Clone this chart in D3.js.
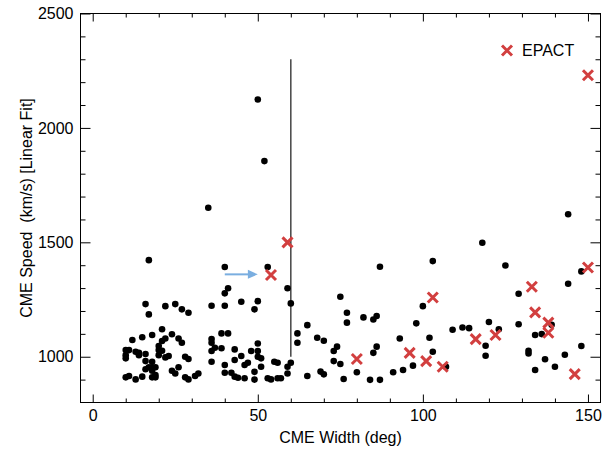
<!DOCTYPE html>
<html>
<head>
<meta charset="utf-8">
<script src="https://cdn.jsdelivr.net/npm/d3@7"></script>
<style>
  body { margin: 0; background: #fff; }
  svg text { font-family: "Liberation Sans", Arial, sans-serif; fill: #000; }
</style>
</head>
<body>
<div id="chart"></div>
<script>
// CME width (deg) and linear-fit speed (km/s), all events
const widthAll = [10, 10, 10, 11, 13, 14, 14, 16, 12, 15, 18, 21, 24, 22, 21, 26, 27, 20, 20, 21, 20, 23, 22,
  16, 18, 17, 16, 18, 19, 18, 15, 13, 10, 11, 18, 19, 19, 24, 25, 26, 28, 29, 31, 32, 28, 29,
  16, 17, 22, 25, 27, 29, 17,
  35, 50, 52, 40, 53, 41, 59, 40, 36, 40, 45, 50, 49, 60, 65, 62, 68, 62, 39, 41, 36, 36, 37, 36, 39, 36,
  43, 48, 50, 50, 45, 43, 50, 51, 46, 47, 51, 49, 40, 40, 42, 43, 44, 46, 49, 53, 54, 55, 56, 56, 57,
  59, 59, 60, 65, 69,
  87, 103, 75, 77, 77, 82, 85, 86, 100, 98, 70, 74, 73, 73, 75, 86, 85, 93, 102, 103, 70, 76, 80, 84, 87,
  91, 94, 97, 107,
  144, 118, 125, 129, 144, 148, 109, 112, 114, 120, 123, 129, 119, 119, 134, 136, 139, 132, 132, 137,
  134, 140, 143, 148];
const speedAll = [1029, 1007, 993, 1029, 1022, 1017, 1007, 1012, 1073, 1085, 1095, 1120, 1098, 1080, 1069, 1080, 1061, 1047, 1029, 1026, 1007, 1003, 997,
  981, 978, 954, 945, 954, 954, 939, 913, 901, 910, 916, 910, 910, 920, 939, 927, 954, 910, 901, 916, 927, 1000, 990,
  1230, 1185, 1221, 1230, 1207, 1192, 1422,
  1651, 2124, 1855, 1392, 1392, 1299, 1299, 1277, 1223, 1223, 1240, 1243, 1207, 1233, 1138, 1102, 1083, 1061, 1102, 1102, 1077, 1061, 1039, 1025, 1037, 978,
  1032, 1025, 1058, 1025, 1003, 986, 1000, 993, 964, 974, 956, 934, 964, 930, 930, 913, 908, 906, 900, 906, 901, 978, 974, 906, 906,
  956, 927, 974, 916, 935,
  1393, 1418, 1262, 1192, 1149, 1172, 1163, 1178, 1221, 1146, 1070, 1044, 1025, 981, 968, 1044, 1017, 1080, 1083, 1022, 923, 903, 932, 899, 899,
  932, 942, 961, 956,
  1623, 1498, 1399, 1275, 1319, 1373, 1118, 1128, 1125, 1152, 1120, 1142, 1048, 1004, 1095, 1099, 1140, 1026, 1014, 989,
  942, 956, 1009, 1047];

// EPACT events
const widthEpact = [54, 59, 80, 96, 101, 103, 106, 116, 122, 133, 134, 138, 138, 146, 150, 150];
const speedEpact = [1357, 1500, 990, 1017, 981, 1259, 956, 1077, 1095, 1306, 1194, 1149, 1105, 924, 1390, 2230];

const xMajor = [0, 50, 100, 150];
const yMajor = [1000, 1500, 2000, 2500];

const W = 607, H = 451;
const L = 80.5, R = 600.5, T = 13.5, B = 402.5;

const svg = d3.select("#chart").append("svg")
    .attr("width", W)
    .attr("height", H);

const x = d3.scaleLinear().domain([-3.7, 153.8]).range([L, R]);
const y = d3.scaleLinear().domain([800, 2500]).range([B, T]);

const xMinor = d3.range(0, 151, 10).filter(v => !xMajor.includes(v));
const yMinor = d3.range(900, 2500, 100).filter(v => !yMajor.includes(v));

function addAxis(axisFn, scale, pos, values, size, labels) {
    let ax = axisFn(scale).tickValues(values).tickSize(-size).tickSizeOuter(0);
    if (labels) ax.tickPadding(7).tickFormat(d3.format("d"));
    else ax.tickFormat("");
    let g = svg.append("g").attr("transform", pos).call(ax);
    g.select(".domain").remove();
    g.selectAll(".tick line").attr("stroke", "#000");
    g.selectAll("text").attr("font-size", 16).attr("fill", "#000")
        .style("font-family", '"Liberation Sans", Arial, sans-serif');
    return g;
}

// bottom / top
addAxis(d3.axisBottom, x, `translate(0,${B})`, xMajor, 8, true);
addAxis(d3.axisBottom, x, `translate(0,${B})`, xMinor, 4, false);
addAxis(d3.axisTop, x, `translate(0,${T})`, xMajor, 8, false);
addAxis(d3.axisTop, x, `translate(0,${T})`, xMinor, 4, false);
// left / right
addAxis(d3.axisLeft, y, `translate(${L},0)`, yMajor, 10, true);
addAxis(d3.axisLeft, y, `translate(${L},0)`, yMinor, 5, false);
addAxis(d3.axisRight, y, `translate(${R},0)`, yMajor, 10, false);
addAxis(d3.axisRight, y, `translate(${R},0)`, yMinor, 5, false);

// frame
svg.append("rect")
    .attr("x", L).attr("y", T)
    .attr("width", R - L).attr("height", B - T)
    .attr("fill", "none").attr("stroke", "#000").attr("stroke-width", 1);

// vertical marker line at 60 deg
svg.append("line")
    .attr("x1", x(60)).attr("x2", x(60))
    .attr("y1", y(2300)).attr("y2", y(1000))
    .attr("stroke", "#444").attr("stroke-width", 1.5);

// black points
const pts = widthAll.map((w, i) => ({w: w, v: speedAll[i]}));
svg.append("g").selectAll("circle")
    .data(pts)
    .join("circle")
    .attr("cx", d => x(d.w))
    .attr("cy", d => y(d.v))
    .attr("r", 3.3)
    .attr("fill", "#000");

// EPACT crosses
const red = "#d23f3f";
const cross = "M-5,-5L5,5M-5,5L5,-5";
const ep = widthEpact.map((w, i) => ({w: w, v: speedEpact[i]}));
svg.append("g").selectAll("path")
    .data(ep)
    .join("path")
    .attr("d", cross)
    .attr("transform", d => `translate(${x(d.w)},${y(d.v)})`)
    .attr("stroke", red).attr("stroke-width", 3).attr("fill", "none");

// blue arrow
const blue = "#7aaee0";
svg.append("line")
    .attr("x1", x(40)).attr("x2", x(47.3))
    .attr("y1", y(1360)).attr("y2", y(1360))
    .attr("stroke", blue).attr("stroke-width", 2);
svg.append("path")
    .attr("d", `M${x(50)},${y(1360)}L${x(47)},${y(1360) - 4.5}L${x(47)},${y(1360) + 4.5}Z`)
    .attr("fill", blue);

// legend
svg.append("path")
    .attr("d", cross)
    .attr("transform", "translate(507,50.5)")
    .attr("stroke", red).attr("stroke-width", 3).attr("fill", "none");
svg.append("text")
    .attr("x", 522).attr("y", 56)
    .attr("font-size", 16)
    .text("EPACT");

// axis titles
svg.append("text")
    .attr("x", (L + R) / 2).attr("y", 443)
    .attr("text-anchor", "middle")
    .attr("font-size", 16)
    .text("CME Width (deg)");

svg.append("text")
    .attr("transform", `translate(32,${(T + B) / 2}) rotate(-90)`)
    .attr("text-anchor", "middle")
    .attr("font-size", 16)
    .style("white-space", "pre")
    .text("CME Speed  (km/s) [Linear Fit]");
</script>
</body>
</html>
